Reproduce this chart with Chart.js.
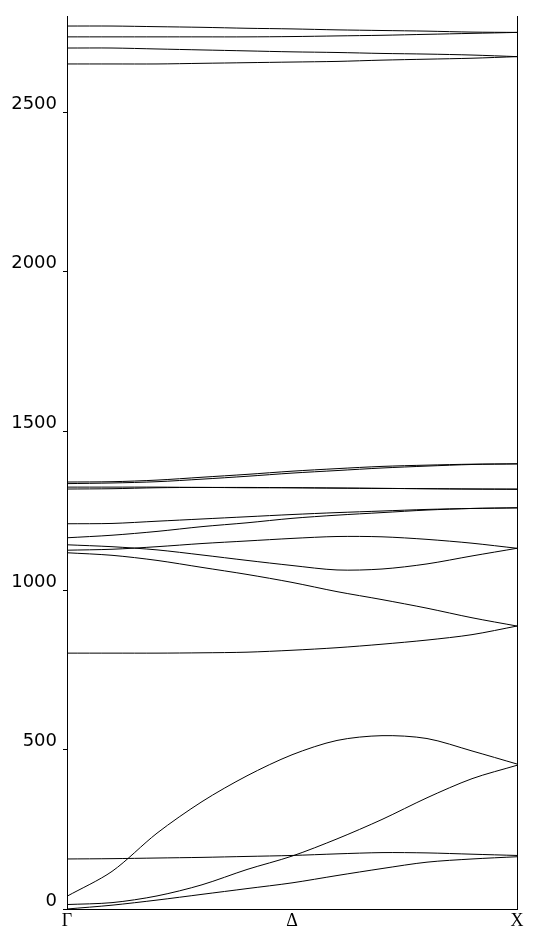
<!DOCTYPE html>
<html>
<head>
    <meta charset="UTF-8">
    <title>Phonon dispersion</title>
    <script src="https://cdn.jsdelivr.net/npm/chart.js"></script>
    <style>
        body { margin: 0; background: #fff; }
        #wrap { width: 548px; height: 941px; }
    </style>
</head>
<body>
    <div id="wrap"><canvas id="bands"></canvas></div>
    <script>
        // k-path positions (Γ -> X) and label ticks
        const kpos = [0, 0.1, 0.2, 0.3, 0.4, 0.5, 0.6, 0.7, 0.8, 0.9, 1.0];
        const kTicks = [0, 0.5, 1];
        const kLabels = ["Γ", "Δ", "X"];
        const freqTicks = [0, 500, 1000, 1500, 2000, 2500];

        // acoustic / low branches
        const bandA = [40, 118, 238, 337, 418, 484, 529, 544, 535, 496, 455];
        const bandB = [14, 20, 41, 76, 124, 166, 220, 281, 349, 409, 451];
        const bandC = [0, 12, 28, 46, 64, 82, 105, 127, 147, 157, 164];
        const bandD = [157, 158, 160, 162, 165, 168, 173, 177, 176, 172, 168];
        // 800 - 1260
        const bandE = [803, 803, 803, 804, 806, 812, 820, 831, 844, 861, 888];
        const bandF = [1118, 1110, 1094, 1072, 1050, 1025, 996, 971, 944, 914, 888];
        const bandG = [1126, 1129, 1137, 1147, 1155, 1163, 1169, 1168, 1160, 1148, 1132];
        const bandH = [1143, 1137, 1127, 1111, 1094, 1078, 1064, 1067, 1083, 1108, 1132];
        const bandJ1 = [1209, 1210, 1217, 1224, 1231, 1238, 1244, 1249, 1254, 1257, 1259];
        const bandJ2 = [1165, 1173, 1185, 1200, 1212, 1226, 1236, 1244, 1252, 1257, 1259];
        // 1300 - 1400
        const bandK1 = [1340, 1341, 1346, 1355, 1364, 1374, 1382, 1389, 1393, 1396, 1397];
        const bandK2 = [1335, 1337, 1341, 1349, 1358, 1368, 1376, 1384, 1390, 1395, 1397];
        const bandK3 = [1324, 1324, 1324, 1323, 1323, 1322, 1321, 1320, 1319, 1318, 1318];
        const bandK4 = [1318, 1319, 1322, 1323, 1322, 1322, 1321, 1320, 1319, 1318, 1317];
        // 2650 - 2780
        const bandL1 = [2771, 2771, 2769, 2767, 2764, 2762, 2759, 2757, 2755, 2752, 2751];
        const bandL2 = [2737, 2737, 2737, 2737, 2737, 2738, 2740, 2742, 2745, 2748, 2751];
        const bandL3 = [2702, 2702, 2699, 2696, 2693, 2690, 2688, 2685, 2683, 2680, 2675];
        const bandL4 = [2652, 2652, 2652, 2654, 2656, 2658, 2660, 2664, 2667, 2670, 2675];

        const allBands = [bandA, bandB, bandC, bandD, bandE, bandF, bandG, bandH, bandJ1, bandJ2,
            bandK1, bandK2, bandK3, bandK4, bandL1, bandL2, bandL3, bandL4];

        const datasets = allBands.map(b => ({
            data: b.map((v, i) => ({ x: kpos[i], y: v })),
            borderColor: "#000",
            borderWidth: 1,
            pointRadius: 0,
            fill: false,
            tension: 0.3
        }));

        new Chart(document.getElementById("bands"), {
            type: "line",
            data: { datasets },
            options: {
                responsive: true,
                maintainAspectRatio: false,
                animation: false,
                events: [],
                layout: { padding: { top: 12, left: 0, right: 0, bottom: 0 } },
                plugins: { legend: { display: false }, tooltip: { enabled: false } },
                scales: {
                    x: {
                        type: "linear",
                        min: 0,
                        max: 1,
                        grid: { display: false },
                        border: { display: true, color: "#000", width: 1 },
                        afterBuildTicks: s => { s.ticks = kTicks.map(v => ({ value: v })); },
                        afterFit: s => { s.height = 32; },
                        ticks: {
                            padding: -7,
                            maxRotation: 0,
                            color: "#000",
                            font: { family: "Liberation Serif", size: 18 },
                            callback: v => kLabels[kTicks.indexOf(v)]
                        }
                    },
                    y: {
                        min: 0,
                        max: 2800,
                        grid: { drawOnChartArea: false, drawTicks: true, tickLength: 4, color: "#000" },
                        border: { display: true, color: "#000", width: 1 },
                        afterBuildTicks: s => { s.ticks = freqTicks.map(v => ({ value: v })); },
                        afterFit: s => { s.width = 67; },
                        ticks: {
                            padding: 6,
                            labelOffset: -8,
                            color: "#000",
                            font: { family: "DejaVu Sans", size: 18 },
                            callback: v => String(v)
                        }
                    },
                    y2: {
                        position: "right",
                        min: 0,
                        max: 2800,
                        grid: { display: false },
                        border: { display: true, color: "#000", width: 1 },
                        ticks: { display: false },
                        afterFit: s => { s.width = 31; }
                    }
                }
            }
        });
    </script>
</body>
</html>
